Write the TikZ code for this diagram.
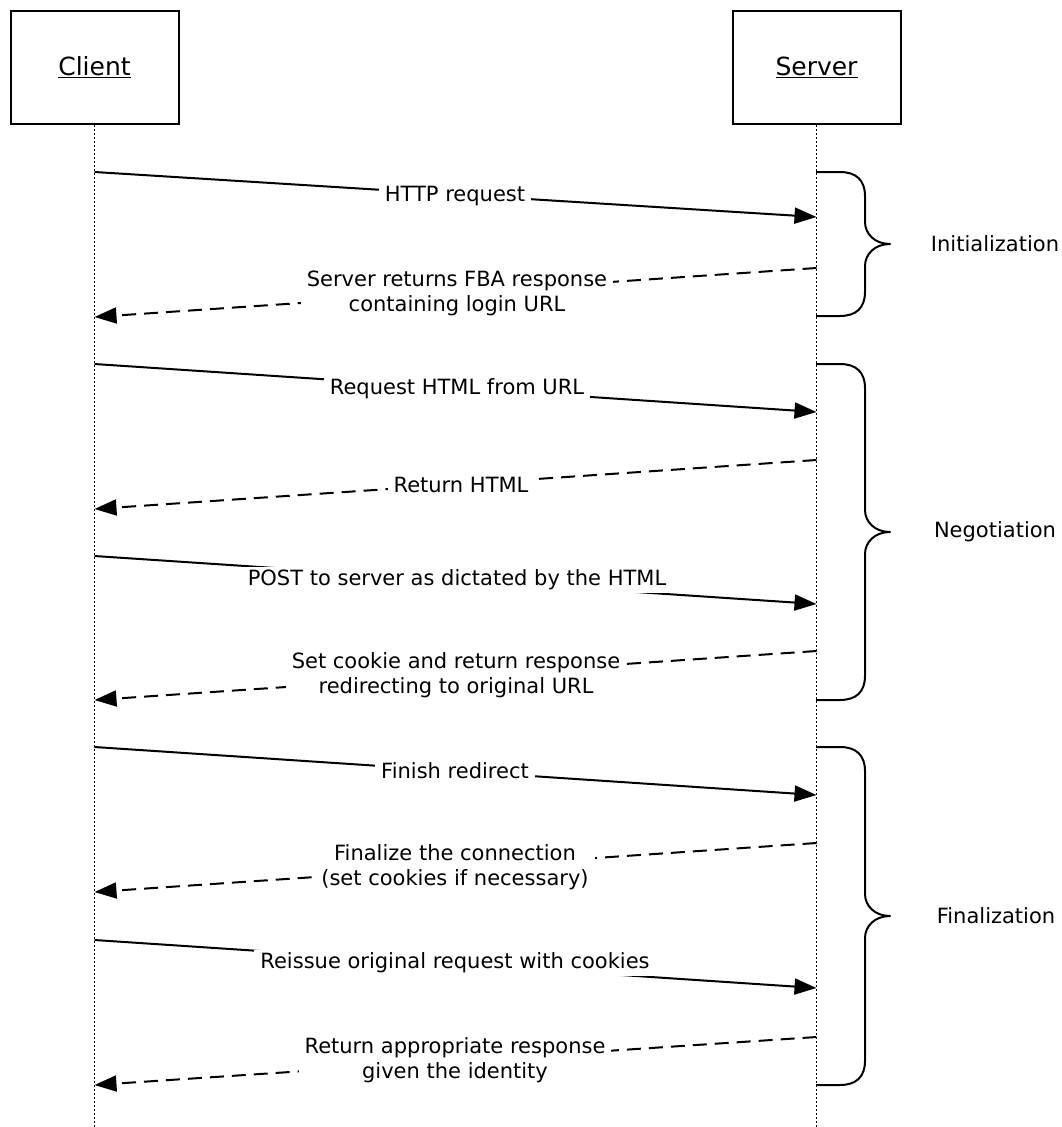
\documentclass[tikz,border=0pt]{standalone}
\usepackage{fontspec}
\setmainfont{DejaVu Sans}
\usetikzlibrary{arrows.meta}
\tikzset{
  actor/.style={draw, line width=2pt, minimum width=168pt, minimum height=113pt, inner sep=0pt, font=\fontsize{25}{30}\selectfont},
  lifeline/.style={line width=1.8pt, dash pattern=on 2pt off 2pt},
  msg/.style={line width=2pt, -{Triangle[length=22pt,width=16pt]}},
  reply/.style={msg, dash pattern=on 14pt off 8pt},
  lbl/.style={fill=white, inner xsep=6pt, inner ysep=3pt, align=center, font=\fontsize{21}{25}\selectfont},
  phase/.style={font=\fontsize{21}{25}\selectfont},
  bracestyle/.style={line width=2pt, line join=round}
}
\newcommand{\mybrace}[3]{%
  \draw[bracestyle] (816,#1) -- (840,#1) .. controls (856,#1) and (865,#1+8) .. (865,#1+24)
    -- (865,#2-22) .. controls (865,#2-10) and (875,#2) .. (890,#2)
    .. controls (875,#2) and (865,#2+10) .. (865,#2+22)
    -- (865,#3-24) .. controls (865,#3-8) and (856,#3) .. (840,#3) -- (816,#3);}
\begin{document}
\begin{tikzpicture}[x=1pt,y=-1pt]
\useasboundingbox (0,0) rectangle (1062,1127);
\node[actor] (client) at (94.5,67.5) {\underline{Client}};
\node[actor] (server) at (816.5,67.5) {\underline{Server}};
\coordinate (cend) at (94.5,1127);
\coordinate (send) at (816.5,1127);
\draw[lifeline] (client.south) -- (cend);
\draw[lifeline] (server.south) -- (send);
% lifeline points
\coordinate (c1) at (94.5,172);  \coordinate (s1) at (816.5,217);
\coordinate (s2) at (816.5,268); \coordinate (c2) at (94.5,317);
\coordinate (c3) at (94.5,364);  \coordinate (s3) at (816.5,412);
\coordinate (s4) at (816.5,460); \coordinate (c4) at (94.5,509);
\coordinate (c5) at (94.5,556);  \coordinate (s5) at (816.5,604);
\coordinate (s6) at (816.5,651); \coordinate (c6) at (94.5,700);
\coordinate (c7) at (94.5,747);  \coordinate (s7) at (816.5,795);
\coordinate (s8) at (816.5,843); \coordinate (c8) at (94.5,892);
\coordinate (c9) at (94.5,940);  \coordinate (s9) at (816.5,988);
\coordinate (s10) at (816.5,1037); \coordinate (c10) at (94.5,1085);
% messages
\draw[msg] (c1) -- (s1);
\draw[reply] (s2) -- (c2);
\draw[msg] (c3) -- (s3);
\draw[reply] (s4) -- (c4);
\draw[msg] (c5) -- (s5);
\draw[reply] (s6) -- (c6);
\draw[msg] (c7) -- (s7);
\draw[reply] (s8) -- (c8);
\draw[msg] (c9) -- (s9);
\draw[reply] (s10) -- (c10);
% labels
\node[lbl] (l1) at (455,196) {HTTP request};
\node[lbl] (l2) at (457,293.5) {Server returns FBA response\\containing login URL};
\node[lbl] (l3) at (457,389) {Request HTML from URL};
\node[lbl] (l4) at (461,485) {Return HTML};
\node[lbl] (l5) at (457,580) {POST to server as dictated by the HTML};
\node[lbl] (l6) at (456,675.5) {Set cookie and return response\\redirecting to original URL};
\node[lbl] (l7) at (455,771) {Finish redirect};
\node[lbl] (l8) at (455,867) {Finalize the connection\\(set cookies if necessary)};
\node[lbl] (l9) at (455,963) {Reissue original request with cookies};
\node[lbl] (l10) at (455,1060.5) {Return appropriate response\\given the identity};
% braces
\mybrace{172}{244}{316}
\mybrace{364}{532}{700}
\mybrace{747}{916}{1085}
\node[phase] (p1) at (995,244) {Initialization};
\node[phase] (p2) at (995,532) {Negotiation};
\node[phase] (p3) at (996,916) {Finalization};
\end{tikzpicture}
\end{document}
